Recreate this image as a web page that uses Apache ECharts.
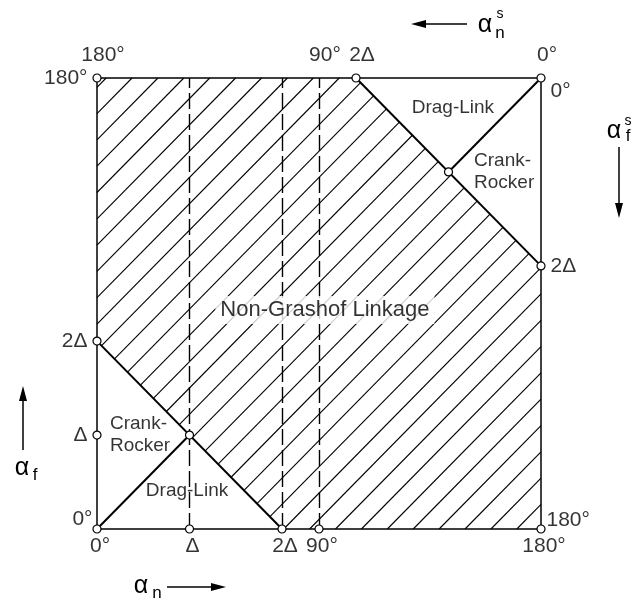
<!DOCTYPE html>
<html>
<head>
<meta charset="utf-8">
<script src="https://cdn.jsdelivr.net/npm/echarts@6/dist/echarts.min.js"></script>
<style>html,body{margin:0;padding:0;background:#fff;}#c{width:636px;height:600px;}</style>
</head>
<body>
<div id="c"></div>
<script>
// ---------- data ----------
const alphaNTicks = [0, 37.5, 75, 90, 180];
const alphaNLabels = ['0°', 'Δ', '2Δ', '90°', '180°'];
const alphaFTicks = [0, 37.5, 75, 180];
const alphaFLabels = ['0°', 'Δ', '2Δ', '180°'];
const alphaNsTicks = [180, 90, 75, 0];      // α_n^s, measured from the right edge
const alphaNsLabels = ['180°', '90°', '2Δ', '0°'];
const alphaFsTicks = [0, 75, 180];          // α_f^s, measured from the top edge
const alphaFsLabels = ['0°', '2Δ', '180°'];
const boundaryLines = [
  [[0, 75], [75, 0]],
  [[0, 0], [37.5, 37.5]],
  [[105, 180], [180, 105]],
  [[180, 180], [142.5, 142.5]]
];
const dashedAt = [37.5, 75, 90];
const markerPoints = [[0, 0], [37.5, 0], [75, 0], [90, 0], [180, 0], [0, 37.5], [0, 75], [0, 180],
  [37.5, 37.5], [105, 180], [180, 180], [180, 105], [142.5, 142.5]];
const nonGrashofBand = [75, 285];           // hatched band: 75 <= α_n + α_f <= 285
const regionNames = ['Drag-Link', 'Crank-\nRocker', 'Non-Grashof Linkage', 'Crank-\nRocker', 'Drag-Link'];

// ---------- layout ----------
const regionAnchors = [[144.3, 168], [164.2, 142.5], [92.4, 87.4], [16.6, 37.5], [36.5, 15.2]];
const hatchStart = -165.8, hatchStep = 10.5;
const FONT = 'Liberation Sans';
const INK = '#000';

// hatch pattern segments (fill pattern of the band)
const hatch = [];
for (let c = hatchStart - 20 * hatchStep; c < 180; c += hatchStep) {
  let t0 = Math.max(0, -c, (nonGrashofBand[0] - c) / 2);
  let t1 = Math.min(180, 180 - c, (nonGrashofBand[1] - c) / 2);
  if (t1 > t0 + 0.01) hatch.push({coords: [[t0 + c, t0], [t1 + c, t1]]});
}

function lbl(extra) {
  return Object.assign({show: true, fontFamily: FONT, fontSize: 21, color: INK}, extra);
}
function tickSeries(name, pts, labels, xi, yi, base, special) {
  return {
    type: 'scatter', name, xAxisIndex: xi, yAxisIndex: yi, symbolSize: 1, silent: true, z: 5,
    itemStyle: {color: 'rgba(255,255,255,0)'},
    data: pts.map((p, i) => ({value: p, label: lbl(Object.assign({formatter: labels[i]}, base, (special && special[labels[i]]) || {}))}))
  };
}

const chart = echarts.init(document.getElementById('c'), null, {renderer: 'canvas'});
const axisCommon = {type: 'value', min: 0, max: 180, axisLabel: {show: false}, axisTick: {show: false},
  splitLine: {show: false}, axisLine: {show: true, onZero: false, lineStyle: {color: INK, width: 1.5}}};

chart.setOption({
  animation: false,
  backgroundColor: '#fff',
  grid: {left: 97, right: 95, top: 78, bottom: 71},
  xAxis: [Object.assign({position: 'bottom'}, axisCommon), Object.assign({position: 'top', inverse: true}, axisCommon)],
  yAxis: [Object.assign({position: 'left'}, axisCommon), Object.assign({position: 'right', inverse: true}, axisCommon)],
  series: [
    {type: 'lines', coordinateSystem: 'cartesian2d', silent: true, z: 1,
      lineStyle: {color: INK, width: 1.1, opacity: 1}, data: hatch},
    {type: 'lines', coordinateSystem: 'cartesian2d', silent: true, z: 2,
      lineStyle: {color: INK, width: 1.4, type: [16, 5], opacity: 1},
      data: dashedAt.map(x => ({coords: [[x, 0], [x, 180]]}))},
    {type: 'lines', coordinateSystem: 'cartesian2d', silent: true, z: 3,
      lineStyle: {color: INK, width: 2, opacity: 1},
      data: boundaryLines.map(s => ({coords: s}))},
    {type: 'scatter', silent: true, z: 6, symbol: 'circle', symbolSize: 8,
      itemStyle: {color: '#fff', borderColor: INK, borderWidth: 1.2, opacity: 1}, data: markerPoints},
    tickSeries('bottom', alphaNTicks.map(v => [v, 0]), alphaNLabels, 0, 0,
      {position: 'bottom', distance: 6, offset: [3, 0]}),
    tickSeries('left', alphaFTicks.map(v => [0, v]), alphaFLabels, 0, 0,
      {position: 'left', distance: 9}, {'0°': {offset: [0, -10], distance: 4}}),
    tickSeries('top', alphaNsTicks.map(v => [v, 180]), alphaNsLabels, 1, 0,
      {position: 'top', distance: 12, offset: [6, 0]}),
    tickSeries('right', alphaFsTicks.map(v => [180, v]), alphaFsLabels, 0, 1,
      {position: 'right', distance: 9}, {'0°': {offset: [0, 13]}, '180°': {offset: [0, -9], distance: 5}}),
    {type: 'scatter', silent: true, z: 8, symbolSize: 1, itemStyle: {color: 'rgba(255,255,255,0)'},
      data: regionAnchors.map((p, i) => ({value: p, label: lbl({
        formatter: regionNames[i], position: 'inside', fontSize: i === 2 ? 22 : 19, lineHeight: 22,
        align: regionNames[i].indexOf('\n') >= 0 ? 'left' : 'center',
        offset: regionNames[i].indexOf('\n') >= 0 ? [-28, 0] : [0, 0],
        backgroundColor: i === 2 ? '#fff' : 'transparent', padding: i === 2 ? [3, 5] : 0})}))}
  ],
  graphic: [
    // bottom: α_n →
    {type: 'text', style: {text: 'α', x: 141, y: 586, fontSize: 25, fontFamily: FONT, fill: INK, align: 'center', verticalAlign: 'middle'}},
    {type: 'text', style: {text: 'n', x: 157, y: 593, fontSize: 17, fontFamily: FONT, fill: INK, align: 'center', verticalAlign: 'middle'}},
    {type: 'line', shape: {x1: 167, y1: 587, x2: 214, y2: 587}, style: {stroke: INK, lineWidth: 1.5}},
    {type: 'polygon', shape: {points: [[226, 587], [211, 583], [211, 591]]}, style: {fill: INK}},
    // top: ← α_n^s
    {type: 'line', shape: {x1: 424, y1: 24, x2: 467, y2: 24}, style: {stroke: INK, lineWidth: 1.5}},
    {type: 'polygon', shape: {points: [[411, 24], [426, 20], [426, 28]]}, style: {fill: INK}},
    {type: 'text', style: {text: 'α', x: 485, y: 25, fontSize: 25, fontFamily: FONT, fill: INK, align: 'center', verticalAlign: 'middle'}},
    {type: 'text', style: {text: 'n', x: 500, y: 33, fontSize: 17, fontFamily: FONT, fill: INK, align: 'center', verticalAlign: 'middle'}},
    {type: 'text', style: {text: 's', x: 500, y: 14, fontSize: 14, fontFamily: FONT, fill: INK, align: 'center', verticalAlign: 'middle'}},
    // left: ↑ α_f
    {type: 'line', shape: {x1: 23, y1: 399, x2: 23, y2: 450}, style: {stroke: INK, lineWidth: 1.5}},
    {type: 'polygon', shape: {points: [[23, 386], [19, 401], [27, 401]]}, style: {fill: INK}},
    {type: 'text', style: {text: 'α', x: 22, y: 468, fontSize: 25, fontFamily: FONT, fill: INK, align: 'center', verticalAlign: 'middle'}},
    {type: 'text', style: {text: 'f', x: 35, y: 475, fontSize: 17, fontFamily: FONT, fill: INK, align: 'center', verticalAlign: 'middle'}},
    // right: α_f^s ↓
    {type: 'text', style: {text: 'α', x: 614, y: 131, fontSize: 25, fontFamily: FONT, fill: INK, align: 'center', verticalAlign: 'middle'}},
    {type: 'text', style: {text: 's', x: 628, y: 121, fontSize: 14, fontFamily: FONT, fill: INK, align: 'center', verticalAlign: 'middle'}},
    {type: 'text', style: {text: 'f', x: 628, y: 136, fontSize: 17, fontFamily: FONT, fill: INK, align: 'center', verticalAlign: 'middle'}},
    {type: 'line', shape: {x1: 619, y1: 147, x2: 619, y2: 205}, style: {stroke: INK, lineWidth: 1.5}},
    {type: 'polygon', shape: {points: [[619, 218], [615, 203], [623, 203]]}, style: {fill: INK}}
  ]
});
</script>
</body>
</html>
